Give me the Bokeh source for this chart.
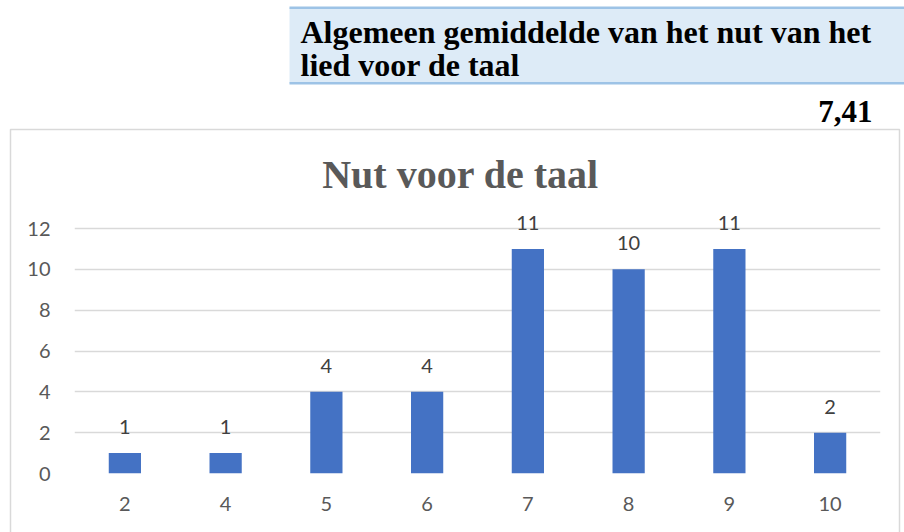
from bokeh.plotting import figure
from bokeh.models import ColumnDataSource, FixedTicker, Label, LabelSet, Range1d
from bokeh.core.properties import value
from bokeh.embed import file_html
from bokeh.resources import INLINE

# ---- data ----
scores = ["2", "4", "5", "6", "7", "8", "9", "10"]
counts = [1, 1, 4, 4, 11, 10, 11, 2]
y_ticks = [0, 2, 4, 6, 8, 10, 12]
header_lines = ["Algemeen gemiddelde van het nut van het", "lied voor de taal"]
mean_text = "7,41"
chart_title = "Nut voor de taal"

W, H = 904, 532
FRAME_L, FRAME_R = 74, 880
FRAME_T, FRAME_B = 0, 473
UNIT = (473 - 228) / 12.0
Y_END = (FRAME_B - FRAME_T) / UNIT

pos = list(range(len(scores)))

p = figure(width=W, height=H, x_range=Range1d(-0.5, len(scores) - 0.5),
           y_range=Range1d(0, Y_END),
           output_backend="svg", toolbar_location=None,
           min_border_left=FRAME_L, min_border_right=W - FRAME_R,
           min_border_top=FRAME_T, min_border_bottom=H - FRAME_B)
p.outline_line_color = None
p.background_fill_color = "white"
p.border_fill_color = "white"
# pixel ranges (value == canvas pixel) for page decorations
p.extra_x_ranges = {"px": Range1d(FRAME_L, FRAME_R)}
p.extra_y_ranges = {"px": Range1d(FRAME_B, FRAME_T)}

# chart box border
p.quad(left=[10], right=[899], top=[129], bottom=[H + 20], fill_color=None,
       line_color="#D9D9D9", line_width=1.5, x_range_name="px",
       y_range_name="px", level="annotation")

# header box
p.quad(left=[289], right=[W + 5], top=[7], bottom=[83], fill_color="#DDEBF7",
       line_color=None, x_range_name="px", y_range_name="px", level="annotation")
p.quad(left=[289, 289], right=[W + 5, W + 5], top=[6, 81.5], bottom=[8.5, 84],
       fill_color="#9DC3E6", line_color=None, x_range_name="px",
       y_range_name="px", level="annotation")

src = ColumnDataSource(dict(x=pos, top=counts, lab=[str(c) for c in counts]))
p.vbar(x="x", top="top", width=0.32, source=src, fill_color="#4472C4",
       line_color=None)

p.add_layout(LabelSet(x="x", y="top", text="lab", source=src,
                      text_align="center", text_baseline="middle", y_offset=26,
                      text_font=value("Lato"), text_font_size="20px",
                      text_color="#404040"))

# axes
p.xaxis.ticker = FixedTicker(ticks=pos)
p.xaxis.major_label_overrides = {i: s for i, s in zip(pos, scores)}
p.xaxis.minor_tick_line_color = None
p.xaxis.axis_line_color = None
p.xaxis.major_tick_line_color = None
p.xaxis.major_label_standoff = 17
p.xaxis.major_label_text_font = "Lato"
p.xaxis.major_label_text_font_size = "20px"
p.xaxis.major_label_text_color = "#595959"
p.yaxis.ticker = FixedTicker(ticks=y_ticks)
p.yaxis.axis_line_color = None
p.yaxis.major_tick_line_color = None
p.yaxis.minor_tick_line_color = None
p.yaxis.major_label_standoff = 18
p.yaxis.major_label_text_font = "Lato"
p.yaxis.major_label_text_font_size = "20px"
p.yaxis.major_label_text_color = "#595959"
p.xgrid.grid_line_color = None
p.ygrid.ticker = FixedTicker(ticks=y_ticks)
p.ygrid.grid_line_color = "#D9D9D9"
p.ygrid.grid_line_width = 1.5

for i, line in enumerate(header_lines):
    p.add_layout(Label(x=300, y=31 + 33 * i, x_units="canvas", y_units="canvas",
                       text=line, text_font="Liberation Serif",
                       text_font_style="bold", text_font_size="32px",
                       text_color="black", text_baseline="middle"))
p.add_layout(Label(x=872, y=111, x_units="canvas", y_units="canvas",
                   text=mean_text, text_align="right", text_font="Liberation Serif",
                   text_font_style="bold", text_font_size="31px",
                   text_color="black", text_baseline="middle"))
p.add_layout(Label(x=460, y=174, x_units="canvas", y_units="canvas",
                   text=chart_title, text_align="center",
                   text_font="Liberation Serif", text_font_style="bold",
                   text_font_size="40px", text_color="#595959",
                   text_baseline="middle"))

open("out.html", "w").write(file_html(p, INLINE))
